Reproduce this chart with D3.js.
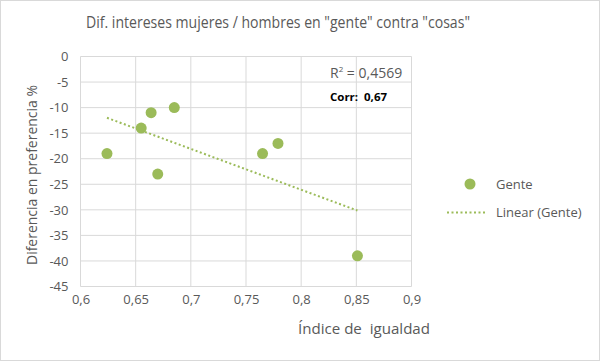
<!DOCTYPE html>
<html><head><meta charset="utf-8">
<script src="https://cdn.jsdelivr.net/npm/d3@7"></script>
<style>body{margin:0;background:#fff}svg{display:block;font-family:"Open Sans","Liberation Sans",sans-serif}</style>
</head><body>
<svg id="c" width="600" height="361"></svg>
<script>
const xValues = [0.624, 0.655, 0.664, 0.685, 0.670, 0.765, 0.779, 0.851];
const yValues = [-19, -14, -11, -10, -23, -19, -17, -39];
const xTicks = [0.6, 0.65, 0.7, 0.75, 0.8, 0.85, 0.9];
const yTicks = [0, -5, -10, -15, -20, -25, -30, -35, -40, -45];
const seriesName = "Gente";
const trendName = "Linear (Gente)";
const titleText = 'Dif. intereses mujeres / hombres en "gente" contra "cosas"';
const xTitle = "Índice de  igualdad";
const yTitle = "Diferencia en preferencia %";
const r2Value = "0,4569";
const corrText = "Corr:  0,67";

const svg = d3.select("#c");
const green = "#9bbb59", grid = "#d9d9d9", txt = "#595959";
svg.append("rect").attr("x",0.5).attr("y",0.5).attr("width",599).attr("height",360).attr("fill","#fff").attr("stroke","#d9d9d9");

const x = d3.scaleLinear().domain([0.6,0.9]).range([80.5,411.5]);
const y = d3.scaleLinear().domain([0,-45]).range([56.5,286.5]);
const fmt = d => String(d).replace(".", ",");

const g = svg.append("g");
g.selectAll(".hg").data(yTicks).join("line").attr("x1",x(0.6)).attr("x2",x(0.9))
 .attr("y1",d=>y(d)).attr("y2",d=>y(d)).attr("stroke",grid);
g.selectAll(".vg").data(xTicks).join("line").attr("y1",y(0)).attr("y2",y(-45))
 .attr("x1",d=>x(d)).attr("x2",d=>x(d)).attr("stroke",grid);

const yAxis = d3.axisLeft(y).tickValues(yTicks).tickSize(0).tickPadding(12).tickFormat(d=>String(d));
const ya = svg.append("g").attr("transform",`translate(${x(0.6)},0)`).call(yAxis);
const xAxis = d3.axisBottom(x).tickValues(xTicks).tickSize(0).tickPadding(8).tickFormat(fmt);
const xa = svg.append("g").attr("transform",`translate(0,${y(-45)})`).call(xAxis);
[ya,xa].forEach(a=>{a.select(".domain").remove();a.selectAll("text").attr("fill",txt).style("font-size","13px").style("font-family","'Open Sans','Liberation Sans',sans-serif");});

// trendline (least squares)
const mx = d3.mean(xValues), my = d3.mean(yValues);
let sxy=0,sxx=0; xValues.forEach((v,i)=>{sxy+=(v-mx)*(yValues[i]-my);sxx+=(v-mx)**2;});
const slope = sxy/sxx, icpt = my - slope*mx;
const x0 = d3.min(xValues), x1 = d3.max(xValues);
svg.append("line").attr("x1",x(x0)).attr("y1",y(icpt+slope*x0)).attr("x2",x(x1)).attr("y2",y(icpt+slope*x1))
 .attr("stroke",green).attr("stroke-width",2).attr("stroke-dasharray","2,2.5");

svg.selectAll(".pt").data(xValues).join("circle").attr("cx",d=>x(d)).attr("cy",(d,i)=>y(yValues[i]))
 .attr("r",5.5).attr("fill",green);

svg.append("text").attr("x",86).attr("y",28).attr("fill",txt)
 .style("font-size","16px").attr("textLength",384).attr("lengthAdjust","spacingAndGlyphs").text(titleText);
svg.append("text").attr("x",298).attr("y",334).attr("fill",txt).attr("xml:space","preserve")
 .style("font-size","14px").attr("textLength",132).attr("lengthAdjust","spacingAndGlyphs").text(xTitle);
svg.append("text").attr("transform","translate(37,265) rotate(-90)").attr("fill",txt)
 .style("font-size","14px").attr("textLength",180).attr("lengthAdjust","spacingAndGlyphs").text(yTitle);

const r2t = svg.append("text").attr("x",330).attr("y",78).attr("fill",txt).style("font-size","14px");
r2t.append("tspan").text("R");
r2t.append("tspan").attr("dy",-6).style("font-size","8px").text("2");
r2t.append("tspan").attr("dy",6).text(" = " + r2Value);
svg.append("text").attr("x",330).attr("y",101).attr("fill","#000").attr("xml:space","preserve")
 .style("font-size","10.5px").style("font-weight","bold")
 .attr("textLength",57).attr("lengthAdjust","spacingAndGlyphs").text(corrText);

svg.append("circle").attr("cx",470).attr("cy",184).attr("r",5.5).attr("fill",green);
svg.append("text").attr("x",496).attr("y",189).attr("fill",txt).style("font-size","13px").text(seriesName);
svg.append("line").attr("x1",447).attr("x2",487).attr("y1",212.5).attr("y2",212.5).attr("stroke",green)
 .attr("stroke-width",2).attr("stroke-dasharray","2,2.5");
svg.append("text").attr("x",496).attr("y",217).attr("fill",txt).style("font-size","13px").text(trendName);
</script>
</body></html>
